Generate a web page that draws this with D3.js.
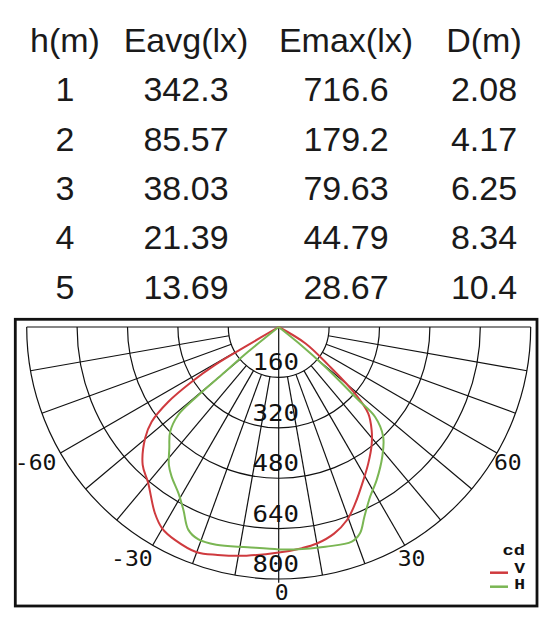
<!DOCTYPE html>
<html>
<head>
<meta charset="utf-8">
<script src="https://cdn.jsdelivr.net/npm/d3@7"></script>
<style>
  body { margin: 0; background: #fff; }
</style>
</head>
<body>
<div id="chart"></div>
<script>
// table values
var tableHeader = ['h(m)', 'Eavg(lx)', 'Emax(lx)', 'D(m)'];
var heights = ['1', '2', '3', '4', '5'];
var eavg = ['342.3', '85.57', '38.03', '21.39', '13.69'];
var emax = ['716.6', '179.2', '79.63', '44.79', '28.67'];
var dist = ['2.08', '4.17', '6.25', '8.34', '10.4'];

// polar grid
var ringValues = [160, 320, 480, 640, 800];
var spokeAngles = [-80, -70, -60, -50, -40, -30, -20, -10, 10, 20, 30, 40, 50, 60, 70, 80];
var angleLabels = [-60, -30, 0, 30, 60];

// candela curves (angle from nadir, cd)
var vAngles = [-61, -59.5, -59.2, -57.8, -55.9, -53.3, -50.2, -44.6, -40, -33.6, -30, -26, -20, -15, -8, 0, 6, 10, 15, 19.5, 23.5, 29, 33.3, 38.2, 42, 46, 49, 52.5, 58.5, 60];
var vValues = [0, 112, 235, 326, 423, 503, 552, 615, 645, 710, 739, 752, 761, 749, 733, 716, 706, 698, 679, 650, 610, 555, 518, 477, 441, 395, 318, 200, 100, 0];
var hAngles = [-53, -51, -50, -49.6, -48.8, -46, -42, -38.5, -35.6, -31, -27.5, -24, -20.7, -16, -8, 0, 4, 12, 18.8, 21.5, 24.3, 28.3, 32.6, 38.6, 43.6, 47, 47.5, 49.4, 51, 53];
var hValues = [0, 124, 237, 349, 424, 479, 519, 560, 584, 617, 655, 705, 721, 719, 706, 706, 708, 713, 720, 704, 661, 612, 577, 527, 481, 418, 343, 194, 80, 0];

var width = 551, height = 623;
var cx = 278.7, cy = 327, R = 252;

var svg = d3.select("#chart")
    .append("svg")
    .attr("width", width)
    .attr("height", height);

svg.append("rect").attr("width", width).attr("height", height).attr("fill", "#fff");

// ---- table ----
var colX = [65, 186, 346, 484];
var rowY = function(i) { return 52 + i * 49.3; };

var tbl = svg.append("g")
    .attr("font-family", "Liberation Sans, Arial, sans-serif")
    .style("font-size", "34px")
    .attr("fill", "#1a1a1a")
    .attr("text-anchor", "middle");

tbl.selectAll("text.head")
    .data(tableHeader)
    .enter()
    .append("text")
    .attr("class", "head")
    .attr("x", function(d, i) { return colX[i]; })
    .attr("y", rowY(0))
    .text(function(d) { return d; });

var rows = heights.map(function(h, i) { return [h, eavg[i], emax[i], dist[i]]; });
rows.forEach(function(row, r) {
    tbl.selectAll("text.r" + r)
        .data(row)
        .enter()
        .append("text")
        .attr("class", "r" + r)
        .attr("x", function(d, i) { return colX[i]; })
        .attr("y", rowY(r + 1))
        .text(function(d) { return d; });
});

// ---- polar diagram ----
var rScale = d3.scaleLinear().domain([0, 800]).range([0, R]);

function polar(deg, v) {
    var a = deg * Math.PI / 180;
    return [cx + rScale(v) * Math.sin(a), cy + rScale(v) * Math.cos(a)];
}

// frame
svg.append("rect")
    .attr("x", 15.3).attr("y", 319.3)
    .attr("width", 521.7).attr("height", 286.7)
    .attr("fill", "none")
    .attr("stroke", "#111")
    .attr("stroke-width", 2.8);

var grid = svg.append("g")
    .attr("fill", "none")
    .attr("stroke", "#111")
    .attr("stroke-width", 1.2);

// half rings
grid.selectAll("path.ring")
    .data(ringValues)
    .enter()
    .append("path")
    .attr("class", "ring")
    .attr("d", function(d) {
        var p = d3.path();
        p.moveTo(cx + rScale(d), cy);
        p.arc(cx, cy, rScale(d), 0, Math.PI);
        return p.toString();
    });

// spokes from first ring outwards
grid.selectAll("line.spoke")
    .data(spokeAngles)
    .enter()
    .append("line")
    .attr("class", "spoke")
    .attr("x1", function(d) { return polar(d, ringValues[0])[0]; })
    .attr("y1", function(d) { return polar(d, ringValues[0])[1]; })
    .attr("x2", function(d) { return polar(d, 800)[0]; })
    .attr("y2", function(d) { return polar(d, 800)[1]; });

// nadir axis and horizontal diameter
grid.append("line")
    .attr("x1", cx).attr("y1", cy)
    .attr("x2", cx).attr("y2", polar(0, 812)[1]);
grid.append("line")
    .attr("x1", polar(-90, 800)[0]).attr("y1", cy)
    .attr("x2", polar(90, 800)[0]).attr("y2", cy);

// curves
var curveLine = d3.line()
    .x(function(d) { return polar(d[0], d[1])[0]; })
    .y(function(d) { return polar(d[0], d[1])[1]; })
    .curve(d3.curveCatmullRom.alpha(0.5));

var vData = vAngles.map(function(a, i) { return [a, vValues[i]]; });
var hData = hAngles.map(function(a, i) { return [a, hValues[i]]; });

svg.append("path")
    .attr("d", curveLine(vData))
    .attr("fill", "none")
    .attr("stroke", "#cf3a3e")
    .attr("stroke-width", 2);

svg.append("path")
    .attr("d", curveLine(hData))
    .attr("fill", "none")
    .attr("stroke", "#7ab653")
    .attr("stroke-width", 2);

// ring labels
svg.selectAll("g.ringLabel")
    .data(ringValues)
    .enter()
    .append("g")
    .attr("class", "ringLabel")
    .attr("transform", function(d) { return "translate(" + (cx - 3) + "," + (cy + rScale(d) - 7) + ") scale(1.12,1)"; })
    .append("text")
    .attr("text-anchor", "middle")
    .attr("font-family", "DejaVu Sans Mono, monospace")
    .style("font-size", "23px")
    .attr("fill", "#111")
    .text(function(d) { return d; });

// angle labels
var angleOffsets = {
    "-60": [-4, 17, "end"],
    "-30": [0, 21, "end"],
    "0": [-4, 21, "start"],
    "30": [-7, 21, "start"],
    "60": [-3, 17, "start"]
};
svg.selectAll("g.angleLabel")
    .data(angleLabels)
    .enter()
    .append("g")
    .attr("class", "angleLabel")
    .attr("transform", function(d) {
        var p = polar(d, 800), o = angleOffsets[String(d)];
        return "translate(" + (p[0] + o[0]) + "," + (p[1] + o[1]) + ") scale(1.1,1)";
    })
    .append("text")
    .attr("text-anchor", function(d) { return angleOffsets[String(d)][2]; })
    .attr("font-family", "DejaVu Sans Mono, monospace")
    .style("font-size", "21px")
    .attr("fill", "#111")
    .text(function(d) { return d === 0 ? "0" : (d < 0 ? "-" + Math.abs(d) : String(d)); });

// legend
var legend = svg.append("g")
    .attr("font-family", "Liberation Mono, Courier New, monospace")
    .attr("font-weight", "bold")
    .attr("fill", "#111");

legend.append("g").attr("transform", "translate(525,555) scale(1.25,1)")
    .append("text").attr("text-anchor", "end").style("font-size", "15px").text("cd");

var legendItems = [["V", "#cf3a3e", 572.7, 573], ["H", "#7ab653", 586.7, 589]];
legendItems.forEach(function(it) {
    svg.append("line")
        .attr("x1", 490).attr("x2", 508)
        .attr("y1", it[2]).attr("y2", it[2])
        .attr("stroke", it[1])
        .attr("stroke-width", 2.5);
    legend.append("g").attr("transform", "translate(525," + it[3] + ") scale(1.2,1)")
        .append("text").attr("text-anchor", "end").style("font-size", "15px").text(it[0]);
});
</script>
</body>
</html>
